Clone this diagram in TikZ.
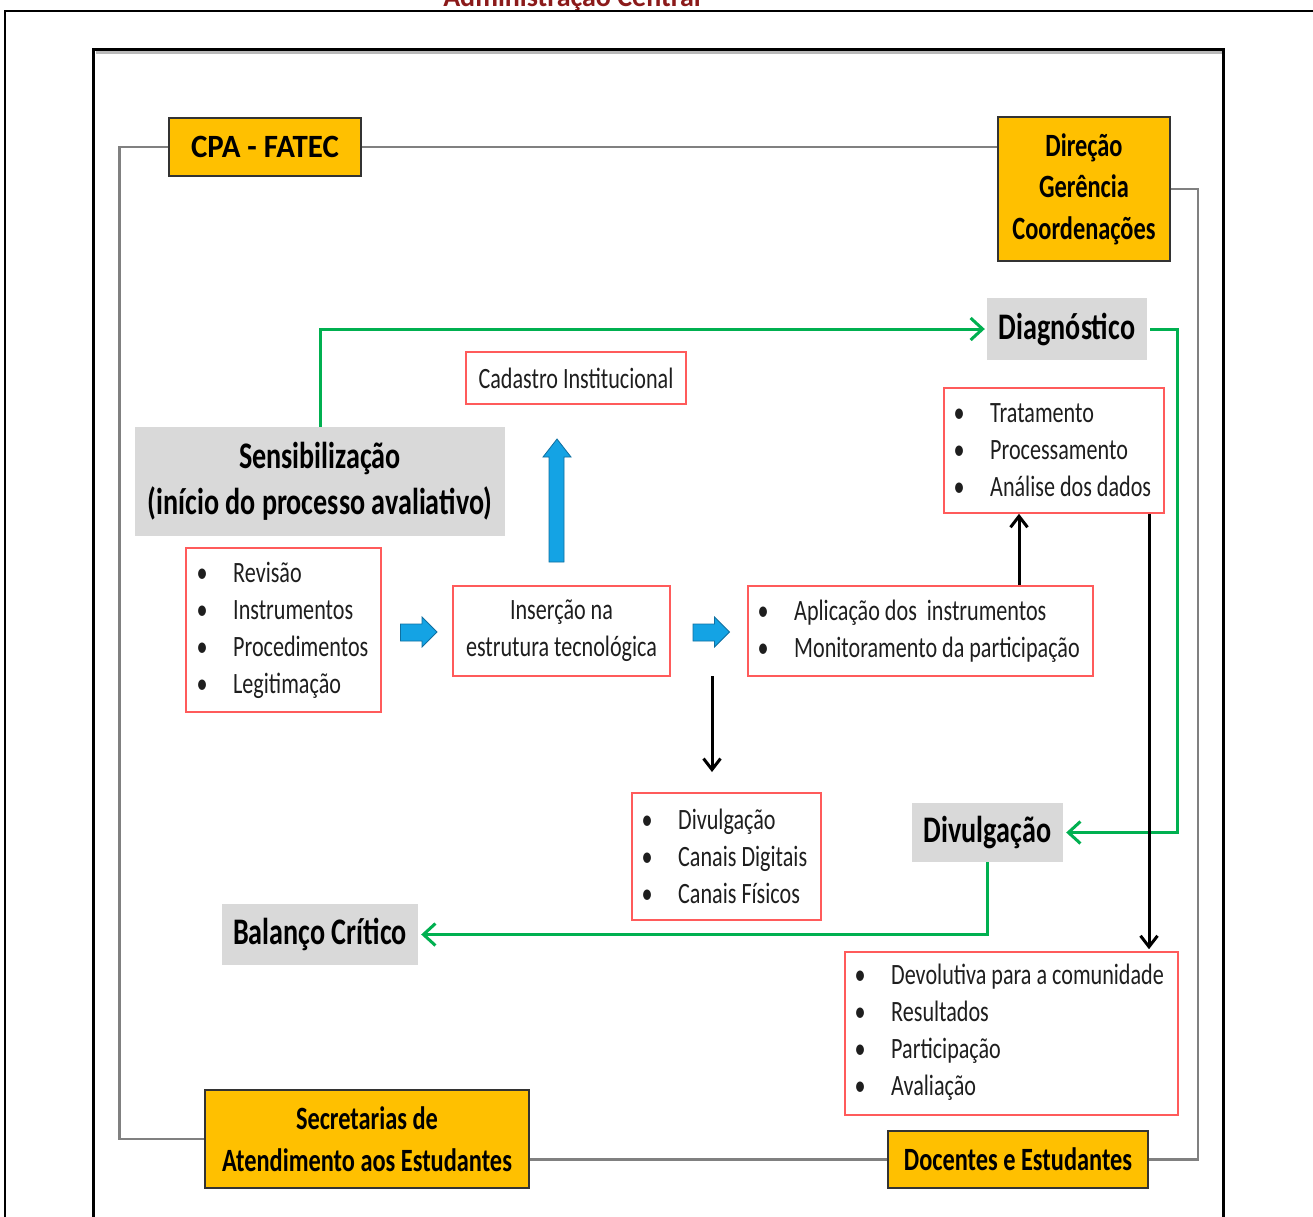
\documentclass[tikz,border=0pt]{standalone}
\usepackage{fontspec}
\setmainfont{Carlito}[FakeStretch=0.75]
\newfontfamily\cpafont{Carlito}[FakeStretch=0.95]
\newfontfamily\titlefont{Carlito}
\usetikzlibrary{arrows.meta}
\definecolor{orng}{HTML}{FFC000}
\definecolor{gbox}{HTML}{D9D9D9}
\definecolor{rbord}{HTML}{FF5B5B}
\definecolor{grn}{HTML}{00B050}
\definecolor{conn}{HTML}{808080}
\definecolor{blu}{HTML}{14A3E4}
\definecolor{bluedge}{HTML}{0F6FA0}
\definecolor{ttl}{HTML}{8B1A1A}
\definecolor{txt}{HTML}{1E1E1E}
\newcommand{\bul}{\makebox[36.5pt][l]{•}}
\begin{document}
\begin{tikzpicture}[x=1pt,y=-1pt,
  orange/.style={draw=black!80, line width=1.5pt, fill=orng, inner sep=0pt, font=\bfseries\fontsize{32.5}{41.5}\selectfont, align=center},
  greybox/.style={fill=gbox, inner sep=0pt, font=\bfseries\fontsize{37.5}{46}\selectfont, align=center},
  redbox/.style={draw=rbord, line width=1.6pt, fill=white, inner sep=0pt},
  listtxt/.style={inner sep=0pt, anchor=west, align=left, text=txt, font=\fontsize{29.5}{37}\selectfont},
  ctxt/.style={inner sep=0pt, align=center, text=txt, font=\fontsize{29.5}{37}\selectfont},
  conline/.style={draw=conn, line width=2.5pt},
  grnarrow/.style={draw=grn, line width=3pt, -{Straight Barb[length=12pt,width=22pt,line width=3pt]}},
  blkarrow/.style={draw=black, line width=3pt, -{Straight Barb[length=11pt,width=17pt,line width=3pt]}},
  bluearrow/.style={fill=blu, draw=bluedge, line width=0.8pt, line join=miter}
]
\useasboundingbox (0,0) rectangle (1313,1216);
\clip (0,0) rectangle (1313,1216);
\fill[white] (0,0) rectangle (1313,1216);

% title (cut off at top, as in the reference)
\node[font=\titlefont\bfseries\fontsize{28}{30}\selectfont, text=ttl, anchor=base, inner sep=0pt] (title) at (572,6) {Administração Central};

% outer frame
\draw[line width=2pt] (5,1230) -- (5,11) -- (1330,11);
% inner frame
\draw[gray!55, line width=3pt] (96,52.5) -- (1222,52.5);
\draw[line width=3pt] (93.5,1230) -- (93.5,49.5) -- (1223.5,49.5) -- (1223.5,1230);

% orange boxes
\node[orange, minimum width=192pt, minimum height=58pt, font=\cpafont\bfseries\fontsize{32.5}{40}\selectfont] (cpa) at (265,147) {CPA - FATEC};
\node[orange, minimum width=172pt, minimum height=144pt] (dir) at (1084,189) {Direção\\Gerência\\Coordenações};
\node[orange, minimum width=324pt, minimum height=98pt] (sec) at (367,1139) {Secretarias de\\Atendimento aos Estudantes};
\node[orange, minimum width=260pt, minimum height=57pt] (doc) at (1018,1159.5) {Docentes e Estudantes};

% grey connectors
\draw[conline] (cpa.west) -- ++(-49,0) |- (sec.west);
\draw[conline] (cpa.east) -- (cpa.east -| dir.west);
\draw[conline] (dir.east) -- ++(27,0) |- (doc.east);
\draw[conline] (sec.east |- doc.west) -- (doc.west);

% grey boxes
\node[greybox, minimum width=160pt, minimum height=62pt] (diag) at (1067,329) {Diagnóstico};
\node[greybox, minimum width=370pt, minimum height=109pt] (sens) at (320,481.5) {Sensibilização\\(início do processo avaliativo)};
\node[greybox, minimum width=151pt, minimum height=59pt] (divg) at (987.5,832.5) {Divulgação};
\node[greybox, minimum width=196pt, minimum height=61pt] (bal) at (320,934.5) {Balanço Crítico};

% red boxes
\node[redbox, minimum width=220pt, minimum height=52pt] (cad) at (576,378) {};
\node[ctxt] (cadt) at (cad.center) {Cadastro Institucional};
\node[redbox, minimum width=195pt, minimum height=164pt] (rev) at (283.5,630) {};
\node[listtxt] (revt) at (196.5,630) {\bul Revisão\\\bul Instrumentos\\\bul Procedimentos\\\bul Legitimação};
\node[redbox, minimum width=217pt, minimum height=90pt] (ins) at (561.5,631) {};
\node[ctxt] (inst) at (ins.center) {Inserção na\\estrutura tecnológica};
\node[redbox, minimum width=345pt, minimum height=90pt] (apl) at (920.5,631) {};
\node[listtxt] (aplt) at (757.5,631) {\bul Aplicação dos\ \ instrumentos\\\bul Monitoramento da participação};
\node[redbox, minimum width=220pt, minimum height=125pt] (trat) at (1054,450.5) {};
\node[listtxt] (tratt) at (953.5,450.5) {\bul Tratamento\\\bul Processamento\\\bul Análise dos dados};
\node[redbox, minimum width=189pt, minimum height=127pt] (dlist) at (726.5,856.5) {};
\node[listtxt] (dlistt) at (641.5,856.5) {\bul Divulgação\\\bul Canais Digitais\\\bul Canais Físicos};
\node[redbox, minimum width=333pt, minimum height=163pt] (dev) at (1011.5,1033.5) {};
\node[listtxt] (devt) at (854.5,1032) {\bul Devolutiva para a comunidade\\\bul Resultados\\\bul Participação\\\bul Avaliação};

% green connectors
\draw[grnarrow, shorten >=2pt] (sens.north) |- (diag.west);
\draw[grnarrow, shorten <=3pt, shorten >=3pt] (diag.east) -- ++(30,0) |- (divg.east);
\draw[grnarrow, shorten >=3pt] (divg.south) |- (bal.east);

% black arrows
\coordinate (d1) at (712,676);
\coordinate (d2) at (712,772);
\draw[blkarrow] (d1) -- (d2);
\coordinate (xa) at (1019,0);
\draw[blkarrow] (apl.north -| xa) -- (trat.south -| xa);
\coordinate (xb) at (1149,0);
\draw[blkarrow, shorten >=2pt] (trat.south -| xb) -- (dev.north -| xb);

% blue block arrows
\filldraw[bluearrow] (400.5,624) -- (422,624) -- (422,617) -- (437,632) -- (422,647) -- (422,641) -- (400.5,641) -- cycle;
\filldraw[bluearrow] (693,624) -- (714.5,624) -- (714.5,617) -- (729.5,632) -- (714.5,647) -- (714.5,641) -- (693,641) -- cycle;
\filldraw[bluearrow] (549,562) -- (549,457) -- (543,457) -- (557,439) -- (571,457) -- (564,457) -- (564,562) -- cycle;
\end{tikzpicture}
\end{document}
